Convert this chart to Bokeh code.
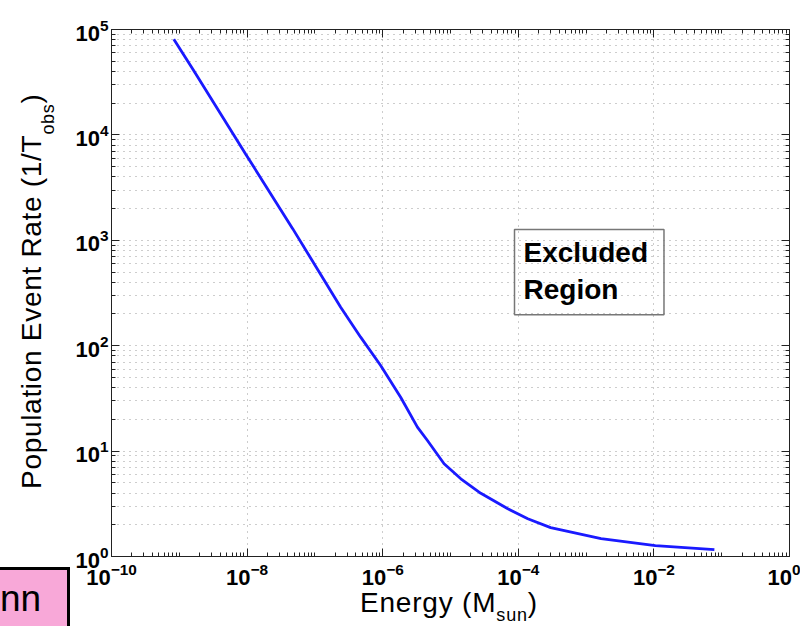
from bokeh.plotting import figure
from bokeh.models import Range1d, FixedTicker, LogTickFormatter, LogAxis, Label, Div
from bokeh.layouts import column, row
from bokeh.embed import file_html
from bokeh.resources import INLINE

# Energy threshold (solar masses) vs. population event rate (per observation time)
energy = [8.3e-10, 1.62e-9, 9.5e-9, 4.7e-8, 2.4e-7, 4.73e-7, 9.33e-7,
          1.84e-6, 3.25e-6, 4.57e-6, 8.04e-6, 1.42e-5, 2.8e-5, 6.9e-5,
          1.38e-4, 3.0e-4, 1.66e-3, 1.05e-2, 7.8e-2]
rate = [8.1e4, 4.1e4, 6.6e3, 1.29e3, 232, 120.5, 64.9,
        32.4, 16.9, 12.6, 7.59, 5.46, 3.98, 2.85,
        2.28, 1.88, 1.48, 1.27, 1.16]

# Axis decades
x_major_exp = [-10, -8, -6, -4, -2, 0]
x_decades = list(range(-10, 1))
y_major_exp = [0, 1, 2, 3, 4, 5]

x_major = [10.0 ** e for e in x_major_exp]
x_minor = [m * 10.0 ** e for e in x_decades[:-1] for m in range(1, 10)
           if not (m == 1 and e in x_major_exp)]
y_major = [10.0 ** e for e in y_major_exp]
y_minor = [m * 10.0 ** e for e in y_major_exp[:-1] for m in range(2, 10)]

FONT = "Liberation Sans"
PINK = "#f8a8d8"

p = figure(width=730, height=588, x_axis_type="log", y_axis_type="log",
           x_range=Range1d(1e-10, 1), y_range=Range1d(1, 1e5),
           output_backend="svg", toolbar_location=None,
           min_border_left=41, min_border_right=11,
           min_border_top=29, min_border_bottom=32,
           background_fill_color="white", border_fill_color="white",
           outline_line_color="#222222", outline_line_width=1, margin=0)

xt = FixedTicker(ticks=x_major, minor_ticks=x_minor)
yt = FixedTicker(ticks=y_major, minor_ticks=y_minor)
p.xaxis.ticker = xt
p.yaxis.ticker = yt

for ax in (p.xaxis[0], p.yaxis[0]):
    ax.formatter = LogTickFormatter()
    ax.major_label_text_font = FONT
    ax.major_label_text_font_style = "bold"
    ax.major_label_text_font_size = "22px"
    ax.major_label_text_color = "black"
    ax.axis_line_color = "#222222"
    ax.major_tick_in = 8
    ax.major_tick_out = 0
    ax.minor_tick_in = 4
    ax.minor_tick_out = 0
    ax.major_tick_line_color = "#222222"
    ax.minor_tick_line_color = "#222222"
p.xaxis.major_label_standoff = 6
p.yaxis.major_label_standoff = 3

# Mirror ticks on the top and right edges (labels hidden)
for side, tk in (("above", xt), ("right", yt)):
    ax = LogAxis(ticker=tk, major_tick_in=8, major_tick_out=0,
                 minor_tick_in=4, minor_tick_out=0,
                 major_label_text_font_size="1px", major_label_text_alpha=0,
                 major_label_standoff=0,
                 axis_line_color="#222222", major_tick_line_color="#222222",
                 minor_tick_line_color="#222222")
    p.add_layout(ax, side)

# Dotted grid
p.xgrid.grid_line_color = "#9a9a9a"
p.xgrid.grid_line_dash = "1 5"
p.xgrid.minor_grid_line_color = None
p.ygrid.grid_line_color = "#9a9a9a"
p.ygrid.grid_line_dash = "1 5"
p.ygrid.minor_grid_line_color = "#9a9a9a"
p.ygrid.minor_grid_line_dash = "1 5"

p.line(energy, rate, line_color="#1a1aff", line_width=2.8)

# Region annotation
p.add_layout(Label(x=403, y=327, x_units="screen", y_units="screen",
                   text_align="left", text_baseline="top",
                   text="Excluded\nRegion", text_color="black",
                   text_font=FONT, text_font_size="28px",
                   text_font_style="bold", text_line_height=1.2,
                   padding=(9, 16, 7, 10),
                   border_line_color="#777777", border_line_width=1.5))

# Left column: rotated y-axis title with subscript, and the corner name tag
ylabel_html = (
    '<div style="position:relative;width:70px;height:626px;">'
    '<div style="position:absolute;left:18px;top:489px;transform:rotate(-90deg);'
    'transform-origin:0 0;white-space:nowrap;font-family:\'Liberation Sans\';'
    'font-size:28px;line-height:28px;letter-spacing:0.7px;color:black;">'
    'Population Event Rate (1/T<span style="font-size:18px;vertical-align:-13px;">obs</span>)'
    '</div>'
    f'<div style="position:absolute;left:0;top:567px;width:70px;height:59px;'
    f'box-sizing:border-box;background:{PINK};border-top:3px solid black;'
    'border-right:3px solid black;"></div>'
    '<div style="position:absolute;left:0;top:580px;font-family:\'Liberation Sans\';'
    'font-size:37px;line-height:37px;white-space:nowrap;color:black;">nn</div>'
    '</div>'
)
ylabel = Div(text=ylabel_html, width=70, height=626, margin=0)

# X-axis title with subscript
xlabel_html = (
    '<div style="position:relative;width:730px;height:38px;">'
    '<div style="position:absolute;left:290px;top:1px;font-family:\'Liberation Sans\';'
    'font-size:28px;line-height:28px;letter-spacing:0.8px;white-space:nowrap;color:black;">'
    'Energy (M<span style="font-size:18px;vertical-align:-9px;">sun</span>)</div>'
    '</div>'
)
xlabel = Div(text=xlabel_html, width=730, height=38, margin=0)

layout = row(ylabel, column(p, xlabel, spacing=0, margin=0), spacing=0, margin=0)

open("out.html", "w").write(file_html(layout, INLINE))
